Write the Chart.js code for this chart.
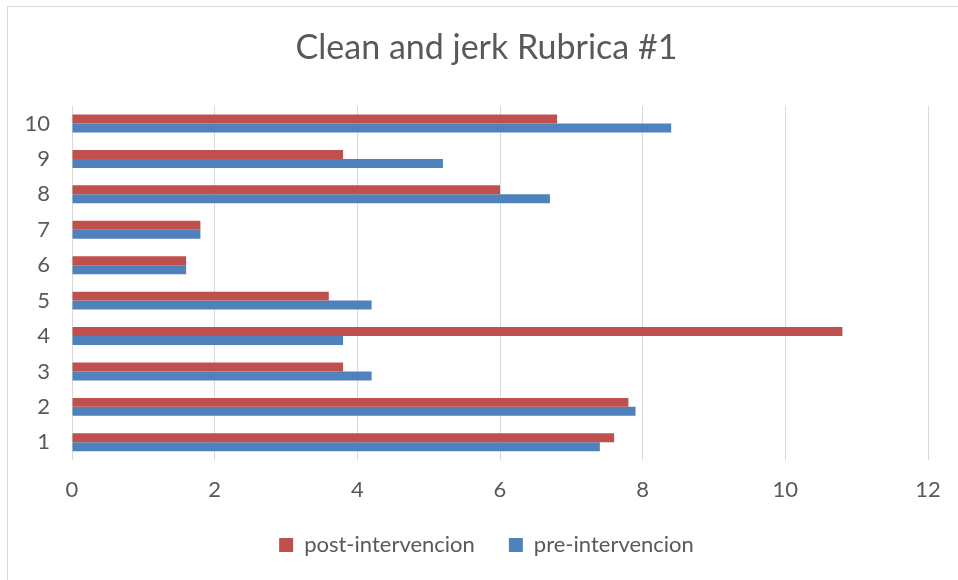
<!DOCTYPE html>
<html>
<head>
<meta charset="utf-8">
<script src="https://cdn.jsdelivr.net/npm/chart.js@4/dist/chart.umd.min.js"></script>
<style>
  html, body { margin: 0; padding: 0; background: #fff; overflow: hidden; }
  #frame { position: absolute; left: 7px; top: 6px; width: 960px; height: 590px; border: 1px solid #D9D9D9; }
  #wrap { position: absolute; left: 8px; top: 7px; width: 958px; height: 580px; }
</style>
</head>
<body>
<div id="frame"></div>
<div id="wrap"><canvas id="rubricaChart" width="958" height="580"></canvas></div>
<script>
const categorias = ['1', '2', '3', '4', '5', '6', '7', '8', '9', '10'];
const postIntervencion = [7.6, 7.8, 3.8, 10.8, 3.6, 1.6, 1.8, 6.0, 3.8, 6.8];
const preIntervencion = [7.4, 7.9, 4.2, 3.8, 4.2, 1.6, 1.8, 6.7, 5.2, 8.4];
const ticksX = [0, 2, 4, 6, 8, 10, 12];

const gris = '#595959';
const fuente = 'Lato';

// the y labels are drawn "mirrored" so they are not clipped to the narrow axis box;
// a negative padding puts them back on the left of the bars, right aligned
const medida = document.createElement('canvas').getContext('2d');
medida.font = '22px ' + fuente;
const anchoEtiqueta = Math.max(...categorias.map(c => medida.measureText(c).width));

const ctx = document.getElementById('rubricaChart').getContext('2d');
const rubricaChart = new Chart(ctx, {
    type: 'bar',
    data: {
        labels: categorias,
        datasets: [{
            label: 'post-intervencion',
            data: postIntervencion,
            backgroundColor: '#C0504D',
            borderWidth: 0
        }, {
            label: 'pre-intervencion',
            data: preIntervencion,
            backgroundColor: '#4F81BD',
            borderWidth: 0
        }]
    },
    options: {
        indexAxis: 'y',
        responsive: false,
        animation: false,
        categoryPercentage: 0.507,
        barPercentage: 1,
        layout: { padding: { left: 37, right: 38, top: 0, bottom: 21 } },
        scales: {
            x: {
                min: 0,
                max: 12,
                afterBuildTicks: (scale) => { scale.ticks = ticksX.map(v => ({ value: v })); },
                afterFit: (scale) => { scale.height = 40; },
                grid: { color: '#D9D9D9', lineWidth: 1, drawTicks: false },
                border: { display: false },
                ticks: { color: gris, font: { family: fuente, size: 22 }, padding: 17 }
            },
            y: {
                reverse: true,
                afterFit: (scale) => { scale.width = 27; },
                grid: { display: false, drawTicks: false },
                border: { display: false },
                ticks: {
                    color: gris,
                    font: { family: fuente, size: 22 },
                    mirror: true,
                    crossAlign: 'far',
                    padding: -22 - anchoEtiqueta
                }
            }
        },
        plugins: {
            title: {
                display: true,
                text: 'Clean and jerk Rubrica #1',
                color: gris,
                font: { family: fuente, size: 34, weight: 'normal' },
                padding: { top: 21, bottom: 37 }
            },
            legend: {
                display: true,
                position: 'bottom',
                labels: {
                    color: gris,
                    font: { family: fuente, size: 22 },
                    boxWidth: 14,
                    boxHeight: 14,
                    padding: 34
                }
            },
            tooltip: { enabled: false }
        }
    }
});
</script>
</body>
</html>
